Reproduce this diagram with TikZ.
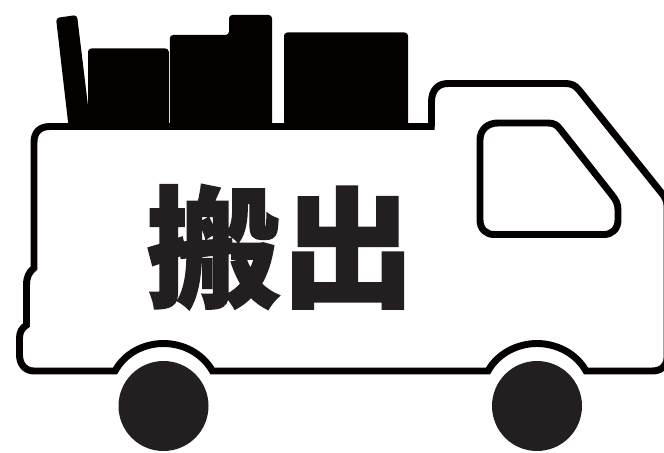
\documentclass[tikz,border=0pt]{standalone}
\usepackage{fontspec}
\newfontfamily\cjkblack[RawFeature={embolden=1.5;extend=1.03}]{Noto Sans CJK JP Black}
\definecolor{ink}{HTML}{231F20}
\definecolor{deep}{HTML}{040000}
\tikzset{
  outline/.style={draw=deep,line width=5.2pt,line join=miter},
  cargo/.style={fill=deep,rounded corners=2.5pt},
  wheel/.style={fill=ink},
}
\begin{document}
\begin{tikzpicture}[x=0.75pt,y=-0.75pt]
\useasboundingbox (0,0) rectangle (664,453);
\fill[white] (0,0) rectangle (664,453);
% cargo
\fill[cargo] (56,18) -- (77,15) -- (88.5,110) -- (88.5,126) -- (68.5,126) -- cycle;
\fill[cargo] (88,126) -- (88,48.5) -- (168.8,48.5) -- (168.8,126) -- cycle;
\fill[cargo] (169.8,126) -- (169.8,35) -- (229,35) -- (229,15) -- (272,15) -- (272,126) -- cycle;
\fill[cargo] (284,126) -- (284,32.5) -- (408,32.5) -- (408,126) -- cycle;
% truck body
\draw[outline] (434.5,126.5) -- (431.5,126.5) -- (431.5,102)
  .. controls (431.5,90) and (438,83.5) .. (448,83.5)
  -- (565,83.5) .. controls (571,83.5) and (575,85) .. (579,90)
  -- (664,196) .. controls (666,199) and (667,202) .. (667,206)
  -- (667,358) .. controls (667,367) and (660,371) .. (652,371)
  -- (586,371) .. controls (576,353) and (556,343.5) .. (537,343.5)
  .. controls (518,343.5) and (498,353) .. (488,371)
  -- (212.5,371) .. controls (202,353) and (183,343.5) .. (163.5,343.5)
  .. controls (144,343.5) and (125,353) .. (115,371)
  -- (34,371) .. controls (25,371) and (19.5,364) .. (19.5,355)
  -- (19.5,338) .. controls (19.5,332) and (22,328) .. (26.5,325)
  -- (26.5,285) .. controls (26.5,277) and (29,272) .. (34,268)
  -- (34,142) .. controls (34,132) and (40,126.5) .. (50,126.5)
  -- (432,126.5);
% window
\draw[outline,line join=round] (498,123) -- (548,123)
  .. controls (554,123) and (557,125) .. (560,129)
  -- (612,195) .. controls (616,200) and (618,204) .. (618,210)
  -- (618,220) .. controls (618,229) and (612,234.5) .. (604,234.5)
  -- (494,234.5) .. controls (486,234.5) and (480,229) .. (480,220)
  -- (480,140) .. controls (480,130) and (487,123) .. (498,123) -- cycle;
% wheels
\fill[wheel] (163.5,406) circle[radius=33.75pt];
\fill[wheel] (537,406) circle[radius=33.75pt];
% label
\node[text=ink,inner sep=0pt,anchor=center] (label) at (280.5,247)
  {\cjkblack\fontsize{98}{98}\selectfont 搬出};
\end{tikzpicture}
\end{document}
